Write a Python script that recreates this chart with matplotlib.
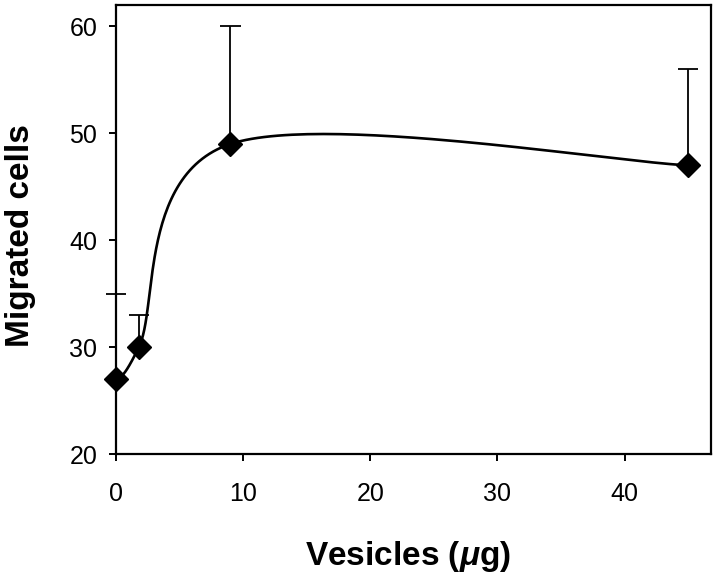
import matplotlib
matplotlib.use("Agg")
import matplotlib.pyplot as plt
import numpy as np

plt.rcParams['font.family'] = ['Liberation Sans', 'DejaVu Sans']
plt.rcParams['mathtext.fontset'] = 'custom'
plt.rcParams['mathtext.it'] = 'Liberation Sans:italic:bold'

# data
vesicles = [0, 1.8, 9, 45]
migrated = [27, 30, 49, 47]
err_up = [8, 3, 11, 9]
xticks = [0, 10, 20, 30, 40]
yticks = [20, 30, 40, 50, 60]


def excel_smooth(xs, ys, sx, sy, n=60):
    # bezier smoothing like a spreadsheet "smoothed line", done in pixel units
    p = np.column_stack([np.array(xs) * sx, np.array(ys) * sy])
    pts = np.vstack([p[0], p, p[-1]])
    out = []
    for i in range(1, len(pts) - 2):
        p0, p1, p2, p3 = pts[i - 1], pts[i], pts[i + 1], pts[i + 2]
        b1 = p1 + (p2 - p0) / 6.0
        b2 = p2 - (p3 - p1) / 6.0
        t = np.linspace(0, 1, n)[:, None]
        seg = ((1 - t) ** 3) * p1 + 3 * ((1 - t) ** 2) * t * b1 + 3 * (1 - t) * t ** 2 * b2 + t ** 3 * p2
        out.append(seg)
    c = np.vstack(out)
    return c[:, 0] / sx, c[:, 1] / sy


fig = plt.figure(figsize=(7.2, 5.76), dpi=100)
ax = fig.add_axes([116 / 720, 1 - 454 / 576, (711 - 116) / 720, (454 - 5) / 576])

cx, cy = excel_smooth(vesicles, migrated, 12.7, 10.7)
ax.plot(cx, cy, color='black', lw=1.9, zorder=3)

# upper error bars only
tops = np.array(migrated) + np.array(err_up)
ax.vlines(vesicles, migrated, tops, color='black', lw=1.3, zorder=2, clip_on=False)
ax.hlines(tops, np.array(vesicles) - 0.8, np.array(vesicles) + 0.8, color='black', lw=1.3, zorder=2, clip_on=False)
ax.plot(vesicles, migrated, 'D', color='black', ms=12, zorder=4, clip_on=False)

ax.set_xlim(0, 46.8)
ax.set_ylim(20, 62)
ax.set_xticks(xticks)
ax.set_yticks(yticks)
ax.tick_params(direction='out', length=5, width=1.4, labelsize=18)
ax.tick_params(axis='x', pad=15)
ax.tick_params(axis='y', pad=8.5)
for s in ax.spines.values():
    s.set_linewidth(1.6)

fig.text(408 / 720, 1 - 556 / 576, 'Vesicles ($\\mathit{\\mu}$g)', fontsize=24, fontweight='bold',
         ha='center', va='center')
fig.text(21 / 720, 1 - 236 / 576, 'Migrated cells', fontsize=24, fontweight='bold',
         ha='center', va='center', rotation=90)

fig.savefig('out.png', dpi=100)
